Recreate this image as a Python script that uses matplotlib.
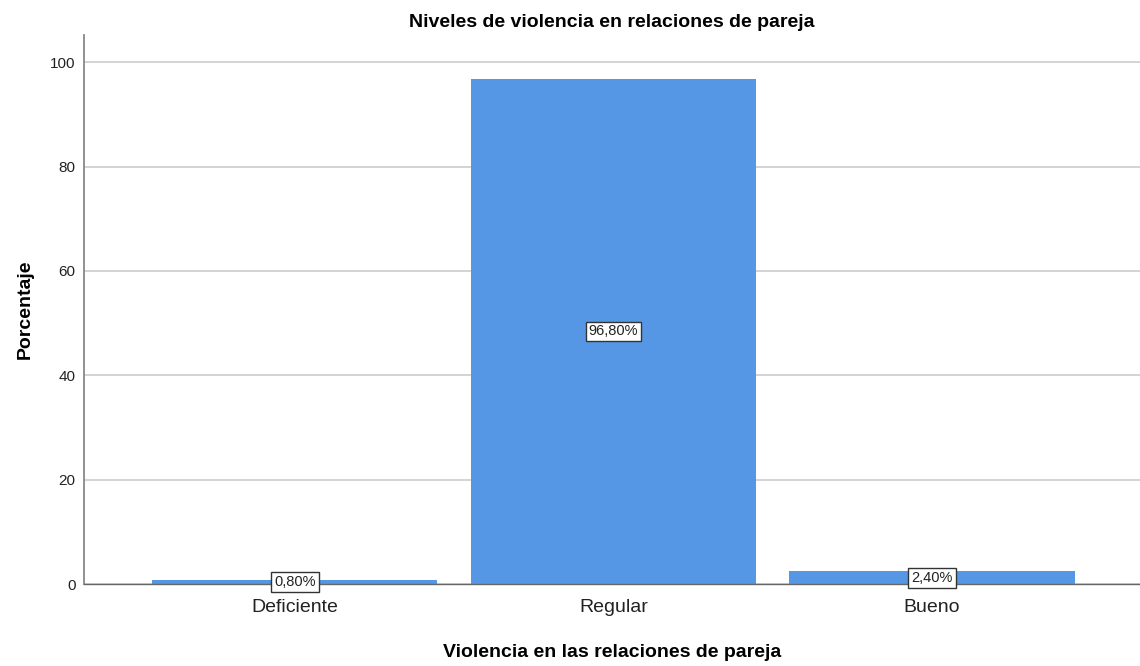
import matplotlib.pyplot as plt

plt.rcParams["font.family"] = ["Liberation Sans", "DejaVu Sans"]

categories = ["Deficiente", "Regular", "Bueno"]
percentages = [0.80, 96.80, 2.40]
labels = ["0,80%", "96,80%", "2,40%"]
y_ticks = [0, 20, 40, 60, 80, 100]

fig = plt.figure(figsize=(11.4, 6.66), dpi=100)
ax = fig.add_axes([0.0737, 0.1231, 0.9263, 0.8243])

x = list(range(len(categories)))
bars = ax.bar(x, percentages, width=0.895, color="#5596e5", zorder=2)

for xi, val, lab in zip(x, percentages, labels):
    ax.text(xi, val / 2, lab, ha="center", va="center", fontsize=10.5, color="#222222",
            zorder=3,
            bbox=dict(boxstyle="square,pad=0.2", facecolor="white", edgecolor="#333333",
                      linewidth=1.0))

ax.set_xlim(-0.662, 2.653)
ax.set_ylim(0, 105.2)
ax.set_yticks(y_ticks)
ax.set_xticks(x)
ax.set_xticklabels(categories, fontsize=14, color="#222222")
ax.tick_params(axis="x", length=0, pad=11)
ax.tick_params(axis="y", labelsize=11, length=0, pad=6, colors="#222222")

ax.grid(axis="y", color="#d0d0d0", linewidth=1.3, zorder=0)
ax.set_axisbelow(True)
for side in ["top", "right"]:
    ax.spines[side].set_visible(False)
ax.spines["left"].set_color("#888888")
ax.spines["bottom"].set_color("#666666")
ax.spines["left"].set_linewidth(1.3)
ax.spines["bottom"].set_linewidth(1.0)

ax.set_title("Niveles de violencia en relaciones de pareja", fontsize=14, fontweight="bold",
             pad=6)
ax.set_xlabel("Violencia en las relaciones de pareja", fontsize=14, fontweight="bold",
              labelpad=20)
ax.set_ylabel("Porcentaje", fontsize=14, fontweight="bold", labelpad=12)

fig.savefig("out.png", dpi=100)
